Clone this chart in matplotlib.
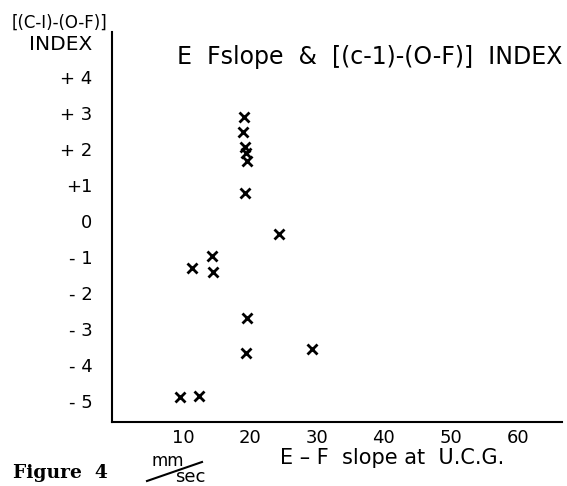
import matplotlib
matplotlib.use('Agg')
import matplotlib.pyplot as plt

## Donnees lues sur la figure
# pente E-F (mm/sec)
ef_slope = [19.1, 18.9, 19.3, 19.4, 19.5, 19.3, 24.3, 11.4, 14.4, 14.5,
            19.5, 19.4, 29.3, 9.6, 12.4]
# index ((C-1)-(O-F))
index = [2.90, 2.48, 2.06, 1.88, 1.67, 0.77, -0.36, -1.29, -0.97, -1.41,
         -2.70, -3.67, -3.56, -4.88, -4.85]

xticks = [10, 20, 30, 40, 50, 60]
yticks = [4, 3, 2, 1, 0, -1, -2, -3, -4, -5]
ylabels = ['+ 4', '+ 3', '+ 2', '+1', '0', '- 1', '- 2', '- 3', '- 4', '- 5']

fig = plt.figure(figsize=(5.67, 4.86), dpi=100)
ax = fig.add_axes([112/567, 64/486, 450/567, 390/486])

ax.plot(ef_slope, index, 'kx', markersize=7.5, markeredgewidth=2)

ax.set_xlim(-0.6, 66.6)
ax.set_ylim(-5.58, 5.25)
ax.spines['top'].set_visible(False)
ax.spines['right'].set_visible(False)
ax.spines['left'].set_linewidth(1.5)
ax.spines['bottom'].set_linewidth(1.5)

ax.set_xticks(xticks)
ax.set_xticklabels([str(v) for v in xticks], fontsize=13)
ax.set_yticks(yticks)
ax.set_yticklabels(ylabels, fontsize=13)
# petits traits visibles a +1 et 0 seulement
ax.set_yticks([1, 0], minor=True)
ax.tick_params(axis='x', length=0, pad=5)
ax.tick_params(axis='y', which='major', length=0, pad=14)
ax.tick_params(axis='y', which='minor', length=4, width=1)

# titres et legendes
fig.text(12/567, 1-23/486, '[(C-I)-(O-F)]', fontsize=12, va='center', ha='left')
fig.text(92/567, 1-45/486, 'INDEX', fontsize=14.5, va='center', ha='right')
fig.text(177/567, 1-57/486, 'E  Fslope  &  [(c-1)-(O-F)]  INDEX', fontsize=17,
         va='center', ha='left')

fig.text(13/567, 1-473/486, 'Figure  4', fontsize=13.5, fontweight='bold',
         family='DejaVu Serif', va='center', ha='left')
fig.text(168/567, 1-461/486, 'mm', fontsize=12, va='center', ha='center')
fig.text(190/567, 1-477/486, 'sec', fontsize=13, va='center', ha='center')
fig.add_artist(plt.Line2D([147/567, 202/567], [1-481/486, 1-462/486],
                          color='k', lw=1.5))
fig.text(280/567, 1-458/486, 'E – F  slope at  U.C.G.', fontsize=15,
         va='center', ha='left')

plt.savefig('out.png', dpi=100)
